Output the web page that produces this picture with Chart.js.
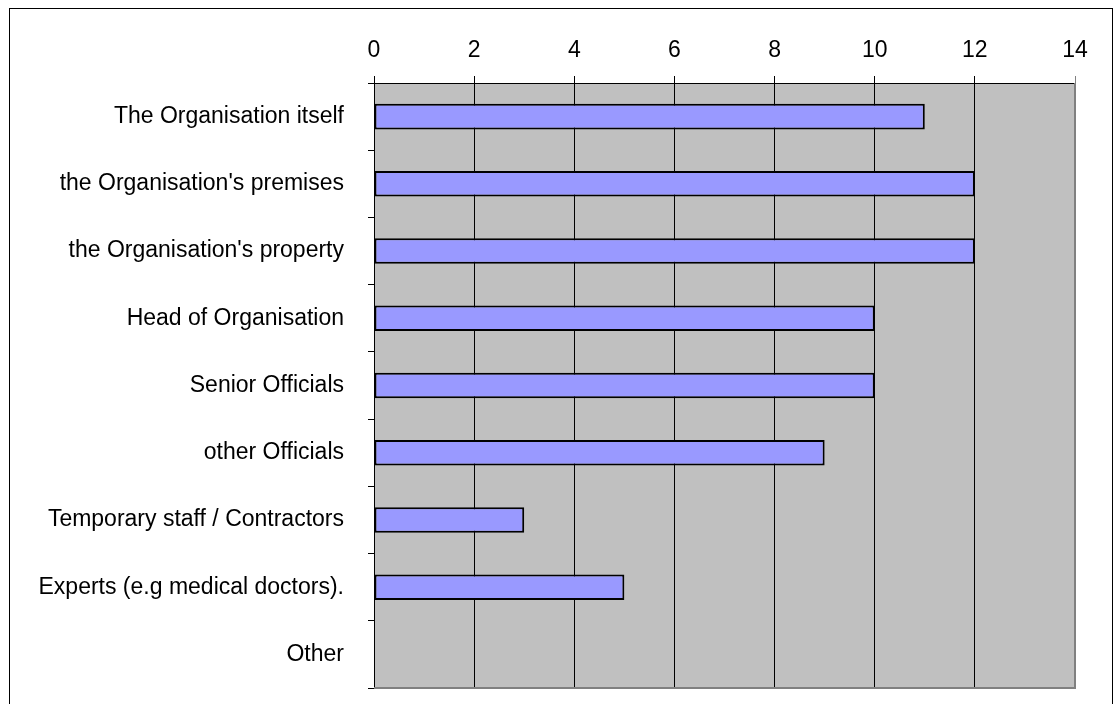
<!DOCTYPE html>
<html lang="en">
<head>
    <meta charset="UTF-8">
    <script src="https://cdn.jsdelivr.net/npm/chart.js"></script>
    <title>Organisation chart</title>
    <style>
        body { margin: 0; background: #ffffff; overflow: hidden; }
        canvas { display: block; }
    </style>
</head>
<body>
<canvas id="barChart" width="1113" height="704"></canvas>
<script>
    // Данные
    const categories = [
        'The Organisation itself',
        "the Organisation's premises",
        "the Organisation's property",
        'Head of Organisation',
        'Senior Officials',
        'other Officials',
        'Temporary staff / Contractors',
        'Experts (e.g medical doctors).',
        'Other'
    ];
    const values = [11, 12, 12, 10, 10, 9, 3, 5, 0];
    const tickValues = [0, 2, 4, 6, 8, 10, 12, 14];

    // рамка и серый фон
    const frame = {
        id: 'frame',
        beforeDraw(chart) {
            const c = chart.ctx, a = chart.chartArea;
            c.save();
            c.fillStyle = '#c0c0c0';
            c.fillRect(a.left, a.top, a.right - a.left, a.bottom - a.top);
            c.restore();
        },
        afterDatasetsDraw(chart) {
            const c = chart.ctx, a = chart.chartArea;
            c.save();
            c.strokeStyle = '#808080';
            c.lineWidth = 2;
            c.beginPath();
            c.moveTo(a.right, a.top);
            c.lineTo(a.right, a.bottom);
            c.lineTo(a.left, a.bottom);
            c.stroke();
            c.strokeStyle = '#000';
            c.lineWidth = 1;
            c.strokeRect(9.5, 8.5, 1103, 700);
            c.restore();
        }
    };

    const ctx = document.getElementById('barChart').getContext('2d');
    const chart = new Chart(ctx, {
        type: 'bar',
        data: {
            labels: categories,
            datasets: [{
                data: values,
                backgroundColor: '#9999ff',
                borderColor: '#000000',
                borderWidth: (c) => (c.raw === 0 ? 0 : 2),
                borderSkipped: false,
                barPercentage: 0.38,
                categoryPercentage: 1
            }]
        },
        options: {
            indexAxis: 'y',
            responsive: false,
            animation: false,
            layout: { padding: { left: 0, right: 38, top: 0, bottom: 16 } },
            plugins: {
                legend: { display: false },
                tooltip: { enabled: false }
            },
            scales: {
                x: {
                    position: 'top',
                    min: 0,
                    max: 14,
                    afterBuildTicks: (s) => { s.ticks = tickValues.map(v => ({ value: v })); },
                    afterFit: (s) => { s.height = 83; s.paddingLeft = 0; s.paddingRight = 0; },
                    grid: {
                        color: (c) => (c.index === tickValues.length - 1 ? '#808080' : '#000000'),
                        lineWidth: 1,
                        tickLength: 7
                    },
                    border: { color: '#000000', width: 1 },
                    ticks: {
                        color: '#000',
                        padding: 12,
                        maxRotation: 0,
                        font: { family: "'Liberation Sans', Arial", size: 23 }
                    }
                },
                y: {
                    afterFit: (s) => { s.width = 374; s.paddingTop = 0; s.paddingBottom = 0; },
                    grid: {
                        drawOnChartArea: false,
                        color: '#000000',
                        tickLength: 6
                    },
                    border: { color: '#000000', width: 1 },
                    ticks: {
                        color: '#000',
                        padding: 24,
                        font: { family: "'Liberation Sans', Arial", size: 23 }
                    }
                }
            }
        },
        plugins: [frame]
    });
</script>
</body>
</html>
